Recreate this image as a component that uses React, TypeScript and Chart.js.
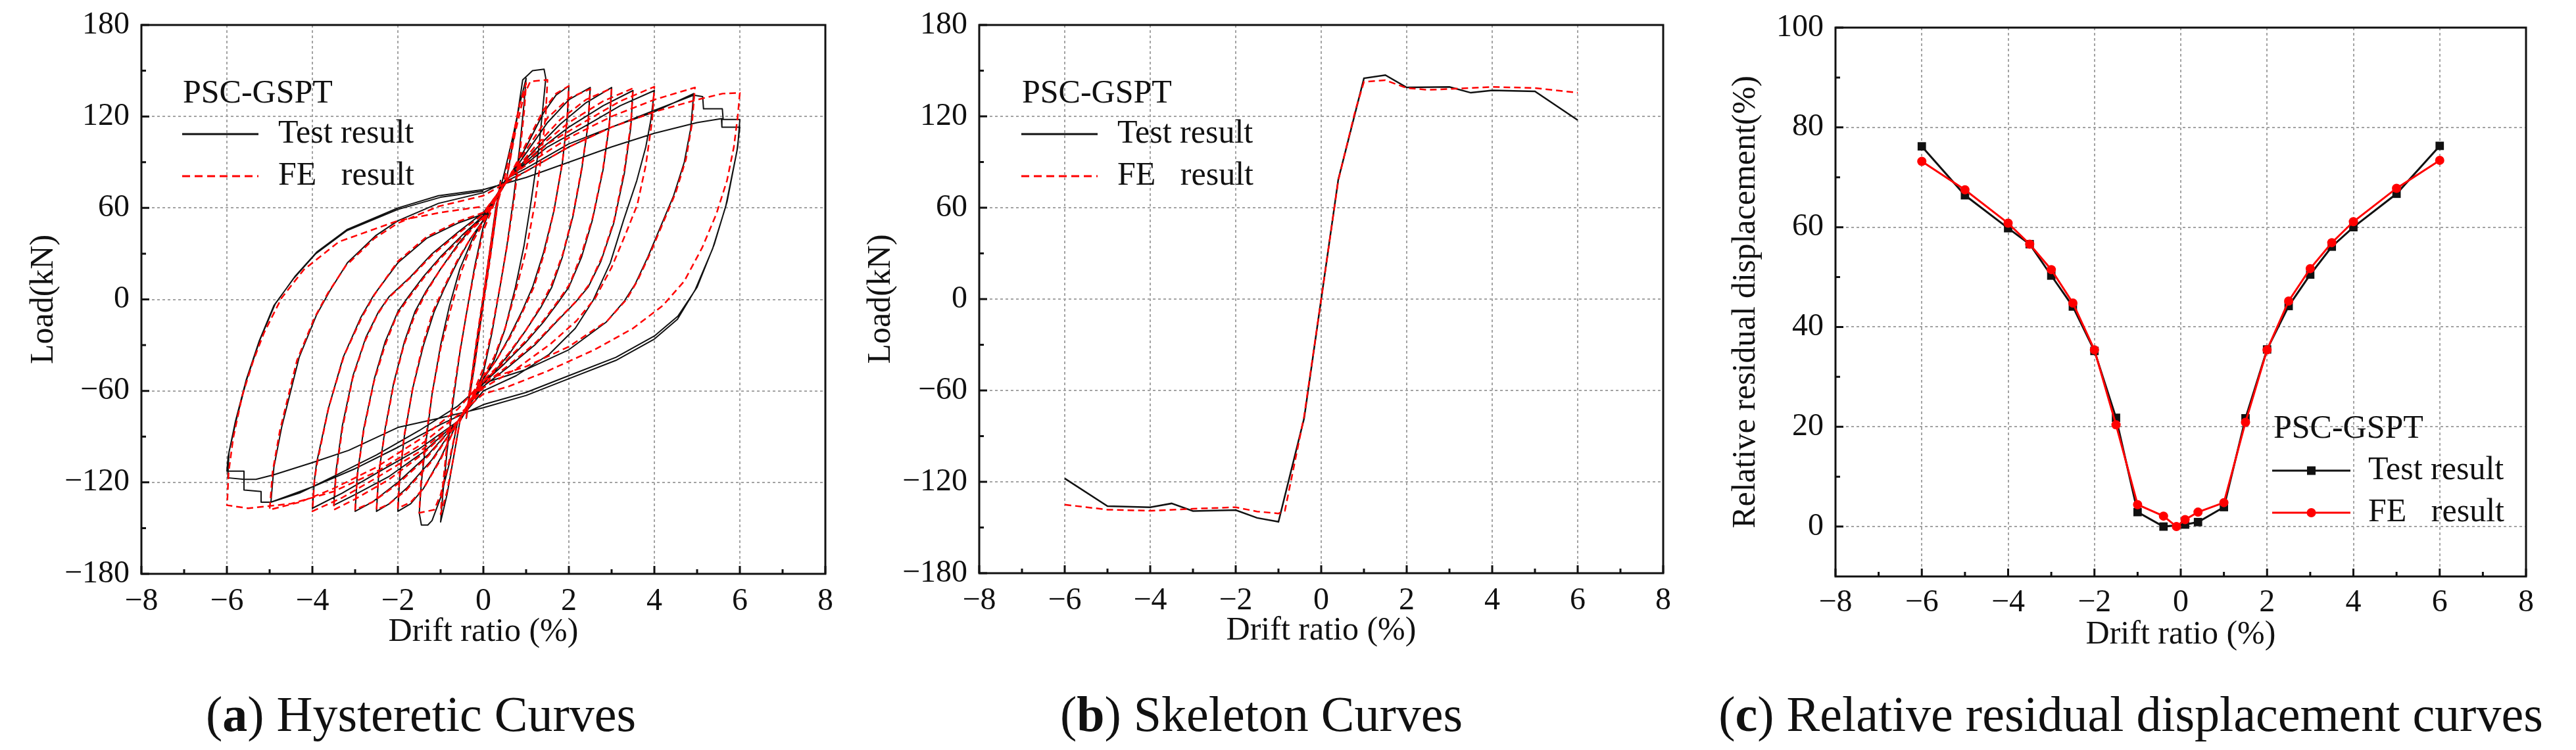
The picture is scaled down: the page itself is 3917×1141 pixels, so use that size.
import { useEffect, useRef } from "react"
import Chart from "chart.js/auto"

type Pt = [number, number]

const SERIF = "'Liberation Serif', 'Times New Roman', Times, serif"
const INK = "#111111"
const RED = "#ff0000"

// axis ticks
const driftTicks = [-8, -6, -4, -2, 0, 2, 4, 6, 8]
const driftMinorTicks = [-7, -5, -3, -1, 1, 3, 5, 7]
const loadTicks = [-180, -120, -60, 0, 60, 120, 180]
const loadMinorTicks = [-150, -90, -30, 30, 90, 150]
const residualTicks = [0, 20, 40, 60, 80, 100]
const residualMinorTicks = [10, 30, 50, 70, 90]

// (a) hysteretic loops, test result, one array per drift level
const testLoop04: Pt[] = [
  [0, 0], [0.2, 42], [0.4, 76], [0.33, 62], [0.2, 36], [0, -2], [-0.2, -42], [-0.4, -78], [-0.33, -63], [-0.2, -36],
  [0, 2], [0.2, 42], [0.4, 78], [0.33, 62], [0.18, 34], [0, 0], [-0.2, -40], [-0.4, -78], [-0.32, -60], [-0.15, -28],
  [0, 2], [0.3, 62],
]
const testLoop10: Pt[] = [
  [0.5, 84], [0.7, 108], [0.85, 128], [1.0, 145], [0.95, 128], [0.85, 100], [0.7, 65], [0.55, 35], [0.4, 10], [0.2, -22],
  [0, -48], [-0.3, -68], [-0.55, -80], [-0.7, -104], [-0.85, -128], [-1.0, -146], [-0.95, -128], [-0.85, -100], [-0.7, -65],
  [-0.55, -35], [-0.4, -10], [-0.2, 22], [0, 48], [0.3, 68], [0.55, 80],
]
const testLoop15: Pt[] = [
  [0.75, 112], [0.92, 144], [1.15, 150], [1.42, 151], [1.46, 145], [1.4, 128], [1.3, 100], [1.12, 65], [0.95, 35], [0.75, 8],
  [0.5, -20], [0.25, -40], [0, -52], [-0.3, -68], [-0.6, -80], [-0.8, -108], [-1.0, -130], [-1.2, -145], [-1.3, -148],
  [-1.45, -148], [-1.5, -140], [-1.45, -120], [-1.35, -95], [-1.2, -62], [-1.0, -30], [-0.8, -5], [-0.55, 20], [-0.25, 40],
  [0, 52], [0.3, 68], [0.6, 80],
]
const testLoop20: Pt[] = [
  [1.0, 100], [1.4, 122], [1.7, 134], [2.0, 140], [1.96, 118], [1.85, 90], [1.65, 58], [1.4, 30], [1.15, 8], [0.9, -8],
  [0.6, -25], [0.3, -40], [0, -52], [-0.3, -68], [-0.6, -80], [-1.0, -104], [-1.4, -124], [-1.7, -134], [-2.0, -139],
  [-1.96, -118], [-1.85, -90], [-1.65, -58], [-1.4, -30], [-1.15, -8], [-0.9, 8], [-0.6, 25], [-0.3, 40], [0, 52],
  [0.3, 66], [0.6, 80],
]
const testLoop25: Pt[] = [
  [1.0, 96], [1.5, 116], [2.0, 131], [2.5, 139], [2.45, 115], [2.3, 85], [2.1, 55], [1.85, 28], [1.6, 8], [1.35, -5],
  [1.0, -20], [0.6, -36], [0.3, -46], [0, -54], [-0.3, -68], [-0.6, -80], [-1.2, -105], [-1.8, -124], [-2.2, -134],
  [-2.5, -139], [-2.45, -115], [-2.3, -85], [-2.1, -55], [-1.85, -28], [-1.6, -8], [-1.35, 5], [-1.0, 20], [-0.6, 36],
  [-0.3, 46], [0, 54], [0.3, 68], [0.6, 80],
]
const testLoop30: Pt[] = [
  [1.2, 98], [1.8, 115], [2.4, 129], [3.0, 139], [2.95, 115], [2.8, 85], [2.55, 52], [2.3, 28], [2.0, 8], [1.75, -2],
  [1.4, -15], [1.0, -28], [0.5, -42], [0, -55], [-0.3, -68], [-0.6, -80], [-1.3, -102], [-2.0, -120], [-2.6, -133],
  [-3.0, -139], [-2.95, -115], [-2.8, -85], [-2.55, -52], [-2.3, -28], [-2.0, -8], [-1.75, 2], [-1.4, 15], [-1.0, 28],
  [-0.5, 42], [0, 55], [0.3, 68], [0.6, 80],
]
const testLoop35: Pt[] = [
  [1.3, 98], [2.0, 113], [2.8, 127], [3.5, 137], [3.45, 113], [3.3, 83], [3.05, 50], [2.75, 25], [2.45, 8], [2.15, -2],
  [1.7, -15], [1.2, -30], [0.6, -44], [0, -57], [-0.3, -68], [-0.6, -80], [-1.4, -100], [-2.2, -116], [-3.0, -128],
  [-3.5, -135], [-3.45, -113], [-3.3, -83], [-3.05, -50], [-2.75, -25], [-2.45, -8], [-2.2, 2], [-1.7, 15], [-1.2, 30],
  [-0.6, 44], [0, 57], [0.3, 68], [0.6, 80],
]
const testLoop40: Pt[] = [
  [1.5, 100], [2.4, 114], [3.2, 127], [4.0, 137], [3.92, 118], [3.8, 100], [3.59, 78], [3.28, 52], [2.97, 24], [2.56, -1],
  [2.15, -19], [1.54, -36], [0.77, -50], [0, -60], [-0.3, -70], [-0.6, -80], [-1.5, -98], [-2.5, -114], [-3.3, -127],
  [-4.0, -137], [-3.95, -118], [-3.9, -107], [-3.63, -72], [-3.28, -38], [-2.87, -12], [-2.56, 3], [-2.0, 24], [-1.33, 40],
  [-0.6, 50], [0, 56], [0.3, 68], [0.6, 80],
]
const testLoop50: Pt[] = [
  [1.0, 86], [2.0, 102], [3.0, 113], [4.0, 123], [4.92, 135], [4.85, 112], [4.7, 90], [4.45, 68], [4.15, 48], [3.85, 28],
  [3.55, 10], [3.3, -1], [2.87, -15], [2.0, -33], [1.0, -46], [0, -55], [-0.6, -70], [-1.5, -86], [-2.5, -102], [-3.5, -116],
  [-4.3, -127], [-4.97, -133], [-4.9, -110], [-4.72, -84], [-4.31, -38], [-3.9, -10], [-3.59, 5.7], [-3.18, 24], [-2.51, 42],
  [-2.0, 51.6], [-1.05, 63], [0, 70],
]
const testLoop60a: Pt[] = [
  [1.0, 84], [2.0, 100], [3.0, 113], [4.0, 124], [4.92, 134], [5.13, 133], [5.15, 125], [5.59, 125], [5.61, 118], [6.0, 118],
  [5.95, 100], [5.7, 64], [5.4, 36], [5.0, 8], [4.55, -11], [4.0, -24], [3.1, -38], [2.0, -50], [1.0, -61], [0, -69],
  [-1.0, -82], [-2.0, -97], [-3.0, -111], [-4.0, -123], [-4.97, -133], [-5.19, -133], [-5.2, -126], [-5.59, -125],
  [-5.6, -118], [-5.98, -117], [-5.95, -100], [-5.78, -79], [-5.53, -52], [-5.22, -26], [-4.87, -3], [-4.41, 15],
  [-3.9, 31], [-3.18, 46], [-2.0, 60], [-1.05, 68], [0, 72],
]
const testLoop60b: Pt[] = [
  [1.0, 80], [2.0, 90], [3.0, 100], [4.0, 109], [5.0, 116], [5.57, 118.6], [5.58, 113], [6.0, 113], [5.93, 97], [5.67, 61],
  [5.36, 33], [4.95, 6], [4.54, -13], [4.0, -26], [3.1, -40], [2.0, -52], [1.0, -63], [0, -71], [-1.05, -78], [-2.0, -84],
  [-3.15, -99], [-4.0, -107], [-4.9, -115], [-5.32, -118], [-5.59, -118], [-5.6, -112.6], [-6.0, -112.6], [-5.97, -103],
  [-5.8, -80], [-5.55, -53], [-5.24, -27], [-4.9, -4], [-4.43, 14], [-3.92, 30], [-3.2, 45], [-2.0, 59], [-1.0, 67], [0, 71],
]

// (a) hysteretic loops, FE result
const feLoop04: Pt[] = [
  [0, 0], [0.2, 40], [0.4, 77], [0.32, 60], [0.15, 25], [0, -3], [-0.2, -42], [-0.4, -78], [-0.32, -60], [-0.15, -25],
  [0, 3], [0.3, 60],
]
const feLoop10: Pt[] = [
  [0.5, 80], [0.7, 108], [0.85, 128], [1.0, 142], [0.96, 125], [0.86, 98], [0.72, 66], [0.56, 36], [0.4, 10], [0.2, -20],
  [0, -45], [-0.3, -66], [-0.55, -80], [-0.7, -104], [-0.85, -126], [-1.0, -141], [-0.96, -125], [-0.86, -98], [-0.72, -66],
  [-0.56, -36], [-0.4, -10], [-0.2, 20], [0, 45], [0.3, 66], [0.55, 80],
]
const feLoop15: Pt[] = [
  [0.75, 110], [0.95, 134], [1.1, 143], [1.5, 144], [1.46, 122], [1.36, 95], [1.2, 62], [1.0, 32], [0.78, 8], [0.52, -18],
  [0.25, -38], [0, -50], [-0.3, -66], [-0.6, -80], [-0.8, -106], [-1.0, -128], [-1.15, -138], [-1.5, -140], [-1.46, -120],
  [-1.36, -94], [-1.2, -62], [-1.0, -32], [-0.78, -8], [-0.52, 18], [-0.25, 38], [0, 50], [0.3, 66], [0.6, 80],
]
const feLoop20: Pt[] = [
  [1.0, 102], [1.4, 124], [1.7, 135], [2.0, 140], [1.96, 118], [1.85, 90], [1.65, 58], [1.42, 30], [1.18, 8], [0.92, -8],
  [0.62, -25], [0.3, -40], [0, -51], [-0.3, -66], [-0.6, -80], [-1.0, -105], [-1.4, -124], [-1.7, -133], [-2.0, -137],
  [-1.96, -116], [-1.85, -89], [-1.65, -58], [-1.42, -30], [-1.18, -8], [-0.92, 8], [-0.62, 25], [-0.3, 40], [0, 51],
  [0.3, 66], [0.6, 80],
]
const feLoop25: Pt[] = [
  [1.0, 98], [1.5, 119], [2.0, 132], [2.5, 138], [2.45, 115], [2.3, 86], [2.1, 56], [1.86, 30], [1.6, 10], [1.35, -4],
  [1.0, -20], [0.6, -35], [0.3, -45], [0, -53], [-0.3, -67], [-0.6, -80], [-1.2, -106], [-1.8, -125], [-2.2, -134],
  [-2.5, -138], [-2.45, -115], [-2.3, -86], [-2.1, -56], [-1.86, -30], [-1.6, -10], [-1.35, 4], [-1.0, 20], [-0.6, 35],
  [-0.3, 45], [0, 53], [0.3, 67], [0.6, 80],
]
const feLoop30: Pt[] = [
  [1.2, 100], [1.8, 118], [2.4, 131], [3.0, 138.5], [2.95, 116], [2.8, 86], [2.56, 54], [2.3, 30], [2.02, 10], [1.75, -1],
  [1.4, -14], [1.0, -27], [0.5, -41], [0, -54], [-0.3, -67], [-0.6, -80], [-1.3, -103], [-2.0, -121], [-2.6, -133],
  [-3.0, -138], [-2.95, -116], [-2.8, -86], [-2.56, -54], [-2.3, -30], [-2.02, -10], [-1.75, 1], [-1.4, 14], [-1.0, 27],
  [-0.5, 41], [0, 54], [0.3, 67], [0.6, 80],
]
const feLoop35: Pt[] = [
  [1.3, 100], [2.0, 116], [2.8, 130], [3.5, 138.5], [3.45, 115], [3.3, 85], [3.06, 52], [2.78, 28], [2.48, 10], [2.18, -1],
  [1.72, -14], [1.2, -29], [0.6, -43], [0, -56], [-0.3, -68], [-0.6, -80], [-1.4, -101], [-2.2, -118], [-3.0, -131],
  [-3.5, -138], [-3.45, -115], [-3.3, -85], [-3.06, -52], [-2.78, -28], [-2.48, -10], [-2.22, 1], [-1.72, 14], [-1.2, 29],
  [-0.6, 43], [0, 56], [0.3, 68], [0.6, 80],
]
const feLoop40: Pt[] = [
  [1.5, 102], [2.4, 117], [3.2, 130], [4.0, 139.5], [3.95, 118], [3.8, 88], [3.6, 62], [3.3, 41], [3.0, 21], [2.62, 1],
  [2.18, -14], [1.58, -29], [0.8, -45], [0, -58], [-0.3, -69], [-0.6, -80], [-1.5, -100], [-2.5, -117], [-3.3, -130],
  [-4.0, -139], [-3.95, -118], [-3.88, -106], [-3.62, -71], [-3.26, -37], [-2.85, -12], [-2.55, 3], [-2.0, 25], [-1.33, 41],
  [-0.6, 51], [0, 57], [0.3, 68], [0.6, 80],
]
const feLoop50: Pt[] = [
  [1.0, 88], [2.0, 106], [3.0, 120], [4.0, 131], [4.95, 139], [4.88, 115], [4.74, 92], [4.5, 70], [4.2, 50], [3.9, 30],
  [3.6, 12], [3.35, 0], [2.9, -14], [2.0, -31], [1.0, -44], [0, -53], [-0.6, -72], [-1.5, -92], [-2.5, -110], [-3.5, -124],
  [-4.3, -133], [-5.0, -138], [-4.93, -113], [-4.76, -86], [-4.36, -40], [-3.95, -12], [-3.64, 4], [-3.22, 22], [-2.55, 40],
  [-2.0, 50], [-1.05, 61], [0, 68],
]
const feLoop60: Pt[] = [
  [1.0, 84], [2.0, 100], [3.0, 113], [4.0, 123], [5.0, 131], [5.6, 135], [6.0, 135.5], [5.95, 120], [5.86, 100], [5.7, 78],
  [5.45, 56], [5.12, 34], [4.7, 12], [4.2, -4], [3.5, -19], [2.6, -33], [1.5, -47], [0.6, -57], [0, -62], [-0.6, -76],
  [-1.5, -96], [-2.5, -113], [-3.5, -126], [-4.5, -134], [-5.5, -137], [-6.0, -135], [-5.99, -132], [-5.96, -113.5],
  [-5.85, -90.6], [-5.64, -63], [-5.38, -40], [-5.13, -21.8], [-4.72, 1], [-4.2, 19.5], [-3.38, 37.8], [-2.0, 51.6],
  [-1.0, 57], [0, 61],
]

const testHysteresis: Pt[] = [
  ...testLoop04, ...testLoop10, ...testLoop15, ...testLoop20, ...testLoop25, ...testLoop30,
  ...testLoop35, ...testLoop40, ...testLoop50, ...testLoop60a, ...testLoop60b,
]
const feHysteresis: Pt[] = [
  ...feLoop04, ...feLoop10, ...feLoop15, ...feLoop20, ...feLoop25, ...feLoop30,
  ...feLoop35, ...feLoop40, ...feLoop50, ...feLoop60,
]

// (b) skeleton curves
const skeletonTestDrift = [-6, -5, -4, -3.5, -3, -2, -1.5, -1, -0.4, 0, 0.4, 1, 1.5, 2, 3, 3.5, 4, 5, 6]
const skeletonTestLoad = [-117.8, -136, -136.7, -134.2, -139.2, -138.6, -143.7, -146.2, -78.3, 0, 78.6, 145, 147.1, 139, 139.3, 135.5, 137, 136.4, 117.5]
const skeletonFeDrift = [-6, -5, -4, -3, -2, -1.5, -1, -0.85, -0.4, 0, 0.4, 0.8, 1, 1.5, 2, 2.5, 3, 4, 5, 6]
const skeletonFeLoad = [-135, -138.3, -139, -137.7, -136.7, -139.5, -140.8, -139, -77, 0, 78, 124, 142.7, 143.7, 138.6, 137.4, 138, 139.3, 138.6, 135.5]

// (c) relative residual displacement
const residualTestDrift = [-6, -5, -4, -3.5, -3, -2.5, -2, -1.5, -1, -0.4, 0.1, 0.4, 1, 1.5, 2, 2.5, 3, 3.5, 4, 5, 6]
const residualTestValue = [76.2, 66.4, 59.8, 56.6, 50.3, 44.1, 35.2, 21.8, 2.9, 0, 0.4, 0.9, 3.9, 21.7, 35.5, 44.2, 50.5, 56.1, 60, 66.7, 76.3]
const residualFeDrift = [-6, -5, -4, -3.5, -3, -2.5, -2, -1.5, -1, -0.4, -0.1, 0.1, 0.4, 1, 1.5, 2, 2.5, 3, 3.5, 4, 5, 6]
const residualFeValue = [73.2, 67.5, 60.8, 56.6, 51.5, 44.8, 35.4, 20.4, 4.4, 2.1, 0, 1.4, 2.9, 4.8, 20.9, 35.4, 45.2, 51.7, 56.9, 61.1, 67.8, 73.4]

const pairs = (pts: Pt[]) => pts.map(([x, y]) => ({ x, y }))
const zip = (xs: number[], ys: number[]) => xs.map((x, i) => ({ x, y: ys[i] }))
const tickText = (v: number | string) => {
  const n = Number(v)
  return n < 0 ? "\u2212" + Math.abs(n) : String(n)
}
const gridColor = (lo: number, hi: number) => (c: any) =>
  c.tick && (c.tick.value === lo || c.tick.value === hi) ? "rgba(0,0,0,0)" : "#a3a3a3"

interface LegendRow {
  label: string
  color: string
  dash: number[]
  width: number
  marker?: "rect" | "circle"
}
interface LegendSpec {
  dx: number
  titleDy: number
  rowDy: number[]
  lineX0: number
  lineX1: number
  textX: number
  rows: LegendRow[]
}

function decor(yMajor: number[], yMinor: number[], legend: LegendSpec) {
  return {
    id: "decor",
    afterDatasetsDraw(chart: any) {
      const { ctx, chartArea: a } = chart
      const xs = chart.scales.x
      const ys = chart.scales.y
      ctx.save()
      ctx.setLineDash([])
      ctx.strokeStyle = INK
      ctx.lineWidth = 3
      ctx.beginPath()
      for (const v of driftTicks) {
        const px = xs.getPixelForValue(v)
        ctx.moveTo(px, a.bottom)
        ctx.lineTo(px, a.bottom - 12)
      }
      for (const v of driftMinorTicks) {
        const px = xs.getPixelForValue(v)
        ctx.moveTo(px, a.bottom)
        ctx.lineTo(px, a.bottom - 7)
      }
      for (const v of yMajor) {
        const py = ys.getPixelForValue(v)
        ctx.moveTo(a.left, py)
        ctx.lineTo(a.left + 12, py)
      }
      for (const v of yMinor) {
        const py = ys.getPixelForValue(v)
        ctx.moveTo(a.left, py)
        ctx.lineTo(a.left + 7, py)
      }
      ctx.stroke()
      ctx.strokeRect(a.left, a.top, a.right - a.left, a.bottom - a.top)

      // legend
      ctx.font = `50px ${SERIF}`
      ctx.textBaseline = "middle"
      ctx.textAlign = "left"
      ctx.fillStyle = INK
      ctx.fillText("PSC-GSPT", a.left + legend.dx, a.top + legend.titleDy)
      legend.rows.forEach((r, i) => {
        const y = a.top + legend.rowDy[i]
        ctx.strokeStyle = r.color
        ctx.lineWidth = r.width
        ctx.setLineDash(r.dash)
        ctx.beginPath()
        ctx.moveTo(a.left + legend.lineX0, y)
        ctx.lineTo(a.left + legend.lineX1, y)
        ctx.stroke()
        ctx.setLineDash([])
        const mx = a.left + (legend.lineX0 + legend.lineX1) / 2
        ctx.fillStyle = r.color
        if (r.marker === "rect") ctx.fillRect(mx - 6.5, y - 6.5, 13, 13)
        if (r.marker === "circle") {
          ctx.beginPath()
          ctx.arc(mx, y, 7, 0, Math.PI * 2)
          ctx.fill()
        }
        ctx.fillStyle = INK
        ctx.fillText(r.label, a.left + legend.textX, y)
      })
      ctx.restore()
    },
  }
}

function xAxis(height: number, labelPad: number, titlePad: number) {
  return {
    type: "linear",
    position: "bottom",
    min: -8,
    max: 8,
    afterBuildTicks: (s: any) => {
      s.ticks = driftTicks.map((v) => ({ value: v }))
    },
    afterFit: (s: any) => {
      s.height = height
      s.paddingLeft = 0
      s.paddingRight = 0
    },
    grid: { color: gridColor(-8, 8), lineWidth: 2, drawTicks: false },
    border: { display: false, dash: [4, 4] },
    ticks: { callback: tickText, color: INK, font: { family: SERIF, size: 48 }, padding: labelPad, autoSkip: false, maxRotation: 0 },
    title: { display: true, text: "Drift ratio (%)", color: INK, font: { family: SERIF, size: 50 }, padding: { top: 0, bottom: titlePad } },
  }
}

function yAxis(min: number, max: number, ticks: number[], title: string, width: number, titlePad: number) {
  return {
    type: "linear",
    position: "left",
    min,
    max,
    afterBuildTicks: (s: any) => {
      s.ticks = ticks.map((v) => ({ value: v }))
    },
    afterFit: (s: any) => {
      s.width = width
      s.paddingTop = 0
      s.paddingBottom = 0
    },
    grid: { color: gridColor(min, max), lineWidth: 2, drawTicks: false },
    border: { display: false, dash: [4, 4] },
    ticks: { callback: tickText, color: INK, font: { family: SERIF, size: 48 }, padding: 18, autoSkip: false },
    title: { display: true, text: title, color: INK, font: { family: SERIF, size: 50 }, padding: { top: titlePad, bottom: 0 } },
  }
}

const baseOptions = (padding: any) => ({
  responsive: false,
  animation: false as const,
  devicePixelRatio: 1,
  events: [] as any[],
  layout: { padding },
  plugins: { legend: { display: false }, tooltip: { enabled: false } },
})

const lineLegend: LegendRow[] = [
  { label: "Test result", color: INK, dash: [], width: 3 },
  { label: "FE   result", color: RED, dash: [12, 7], width: 3 },
]

function buildHysteretic(): any {
  return {
    type: "scatter",
    data: {
      datasets: [
        { label: "Test result", data: pairs(testHysteresis), showLine: true, borderColor: INK, borderWidth: 2, pointRadius: 0, tension: 0, borderJoinStyle: "round", order: 1 },
        { label: "FE result", data: pairs(feHysteresis), showLine: true, borderColor: RED, borderWidth: 2.5, borderDash: [10, 6], pointRadius: 0, tension: 0, borderJoinStyle: "round", order: 0 },
      ],
    },
    options: {
      ...baseOptions({ left: 0, top: 38, right: 45, bottom: 0 }),
      scales: { x: xAxis(137, 14, 18), y: yAxis(-180, 180, loadTicks, "Load(kN)", 215, 37) },
    },
    plugins: [decor(loadTicks, loadMinorTicks, { dx: 63, titleDy: 105, rowDy: [166, 230], lineX0: 62, lineX1: 178, textX: 208, rows: lineLegend })],
  }
}

function buildSkeleton(): any {
  return {
    type: "scatter",
    data: {
      datasets: [
        { label: "Test result", data: zip(skeletonTestDrift, skeletonTestLoad), showLine: true, borderColor: INK, borderWidth: 2.5, pointRadius: 0, tension: 0, order: 1 },
        { label: "FE result", data: zip(skeletonFeDrift, skeletonFeLoad), showLine: true, borderColor: RED, borderWidth: 2.5, borderDash: [10, 6], pointRadius: 0, tension: 0, order: 0 },
      ],
    },
    options: {
      ...baseOptions({ left: 0, top: 38, right: 71, bottom: 0 }),
      scales: { x: xAxis(138, 14, 20), y: yAxis(-180, 180, loadTicks, "Load(kN)", 189, 10) },
    },
    plugins: [decor(loadTicks, loadMinorTicks, { dx: 65, titleDy: 105, rowDy: [166, 230], lineX0: 64, lineX1: 180, textX: 210, rows: lineLegend })],
  }
}

function buildResidual(): any {
  return {
    type: "scatter",
    data: {
      datasets: [
        { label: "Test result", data: zip(residualTestDrift, residualTestValue), showLine: true, borderColor: INK, backgroundColor: INK, borderWidth: 3, pointStyle: "rect", pointRadius: 9, pointBorderWidth: 0, pointBackgroundColor: INK, tension: 0, order: 1 },
        { label: "FE result", data: zip(residualFeDrift, residualFeValue), showLine: true, borderColor: RED, backgroundColor: RED, borderWidth: 3, pointStyle: "circle", pointRadius: 7, pointBorderWidth: 0, pointBackgroundColor: RED, tension: 0, order: 0 },
      ],
    },
    options: {
      ...baseOptions({ left: 0, top: 42, right: 76, bottom: 0 }),
      scales: { x: xAxis(133, 12, 14), y: yAxis(-10, 100, residualTicks, "Relative residual displacement(%)", 191, 25) },
    },
    plugins: [
      decor(residualTicks, residualMinorTicks, {
        dx: 666,
        titleDy: 611,
        rowDy: [674, 738],
        lineX0: 664,
        lineX1: 783,
        textX: 810,
        rows: [
          { label: "Test result", color: INK, dash: [], width: 3, marker: "rect" },
          { label: "FE   result", color: RED, dash: [], width: 3, marker: "circle" },
        ],
      }),
    ],
  }
}

function PanelCanvas({ left, width, height, build }: { left: number; width: number; height: number; build: () => any }) {
  const ref = useRef<HTMLCanvasElement>(null)
  useEffect(() => {
    if (!ref.current) return
    const chart = new Chart(ref.current, build())
    return () => chart.destroy()
  }, [build])
  return <canvas ref={ref} width={width} height={height} style={{ position: "absolute", left, top: 0, width, height }} />
}

const captionStyle = (center: number): any => ({
  position: "absolute",
  left: center - 900,
  width: 1800,
  top: 1048,
  textAlign: "center",
  fontFamily: SERIF,
  fontSize: 76,
  lineHeight: "76px",
  whiteSpace: "nowrap",
  color: INK,
})

export default function App() {
  return (
    <div style={{ position: "absolute", left: 0, top: 0, width: 3917, height: 1141, background: "#fff", overflow: "hidden" }}>
      <PanelCanvas left={0} width={1300} height={1010} build={buildHysteretic} />
      <PanelCanvas left={1300} width={1300} height={1010} build={buildSkeleton} />
      <PanelCanvas left={2600} width={1317} height={1010} build={buildResidual} />
      <div style={captionStyle(640)}>(<b>a</b>) Hysteretic Curves</div>
      <div style={captionStyle(1918)}>(<b>b</b>) Skeleton Curves</div>
      <div style={captionStyle(3240)}>(<b>c</b>) Relative residual displacement curves</div>
    </div>
  )
}
